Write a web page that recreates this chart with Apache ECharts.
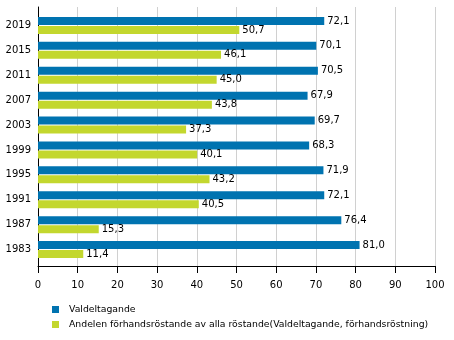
<!DOCTYPE html>
<html>
<head>
<meta charset="utf-8">
<script src="https://cdn.jsdelivr.net/npm/echarts@6/dist/echarts.min.js"></script>
<style>
  html, body { margin: 0; padding: 0; background: #fff; }
  #chart { width: 454px; height: 340px; }
</style>
</head>
<body>
<div id="chart"></div>
<script>
// valår, uppifrån och ned
const years = ['2019', '2015', '2011', '2007', '2003', '1999', '1995', '1991', '1987', '1983'];
const turnout = [72.1, 70.1, 70.5, 67.9, 69.7, 68.3, 71.9, 72.1, 76.4, 81.0];
const advance = [50.7, 46.1, 45.0, 43.8, 37.3, 40.1, 43.2, 40.5, 15.3, 11.4];
const xTicks = [0, 10, 20, 30, 40, 50, 60, 70, 80, 90, 100];

const seriesNames = [
  'Valdeltagande',
  'Andelen förhandsröstande av alla röstande(Valdeltagande, förhandsröstning)'
];

const font = 'DejaVu Sans';
const fmt = p => p.value.toFixed(1).replace('.', ',');

// en förklaring per serie, under varandra
const legendItem = (name, top) => ({
  left: 52,
  top: top,
  padding: 0,
  itemWidth: 7,
  itemHeight: 7,
  icon: 'rect',
  textStyle: { fontFamily: font, fontSize: 9.3, color: '#000', padding: [0, 0, 0, 5] },
  data: [name]
});

const barLabel = {
  show: true, position: 'right', distance: 3,
  color: '#000', fontSize: 10, fontFamily: font, formatter: fmt
};

const chart = echarts.init(document.getElementById('chart'));
chart.setOption({
  animation: false,
  textStyle: { fontFamily: font },
  color: ['#0073b0', '#c3d72e'],
  grid: [
    // ram: rutnät och axlar
    { left: 38, right: 19, top: 7, bottom: 74 },
    // staplarna
    { left: 38, right: 19, top: 13, bottom: 78 }
  ],
  legend: [
    legendItem(seriesNames[0], 305),
    legendItem(seriesNames[1], 320)
  ],
  xAxis: [
    {
      gridIndex: 0,
      type: 'value',
      min: 0,
      max: 100,
      interval: 10,
      axisLine: { show: true, lineStyle: { color: '#000', width: 1 } },
      axisTick: { show: true, length: 7, lineStyle: { color: '#000' } },
      axisLabel: {
        color: '#000', fontFamily: font, fontSize: 10, margin: 14,
        formatter: v => (xTicks.indexOf(v) >= 0 ? String(v) : '')
      },
      splitLine: { show: true, lineStyle: { color: '#d0d0d0', width: 1 } }
    },
    {
      gridIndex: 1,
      type: 'value',
      min: 0,
      max: 100,
      show: false
    }
  ],
  yAxis: [
    {
      gridIndex: 0,
      type: 'value',
      min: 0,
      max: 1,
      axisLine: { show: true, lineStyle: { color: '#000', width: 1 } },
      axisTick: { show: false },
      axisLabel: { show: false },
      splitLine: { show: false }
    },
    {
      gridIndex: 1,
      type: 'category',
      inverse: true,
      data: years,
      axisLine: { show: false },
      axisTick: { show: false },
      axisLabel: { color: '#000', fontFamily: font, fontSize: 10, margin: 7 },
      splitLine: { show: false }
    }
  ],
  series: [
    {
      name: seriesNames[0],
      type: 'bar',
      xAxisIndex: 1,
      yAxisIndex: 1,
      data: turnout,
      barWidth: 8,
      barGap: '12%',
      label: barLabel
    },
    {
      name: seriesNames[1],
      type: 'bar',
      xAxisIndex: 1,
      yAxisIndex: 1,
      data: advance,
      barWidth: 8,
      barGap: '12%',
      label: barLabel
    }
  ]
});
</script>
</body>
</html>
